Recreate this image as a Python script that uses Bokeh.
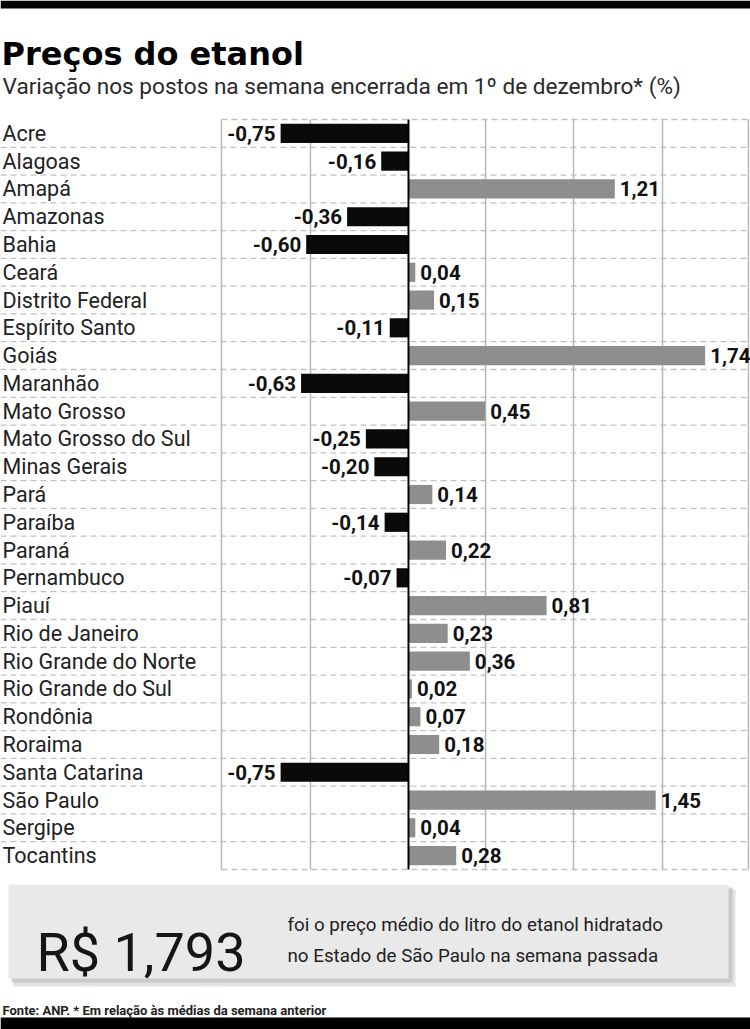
from bokeh.plotting import figure
from bokeh.models import Range1d, Label, BoxAnnotation, ColumnDataSource
from bokeh.core.properties import value
from bokeh.embed import file_html
from bokeh.resources import INLINE

# ---------------- data ----------------
states = [
    "Acre", "Alagoas", "Amapá", "Amazonas", "Bahia", "Ceará",
    "Distrito Federal", "Espírito Santo", "Goiás", "Maranhão",
    "Mato Grosso", "Mato Grosso do Sul", "Minas Gerais", "Pará",
    "Paraíba", "Paraná", "Pernambuco", "Piauí", "Rio de Janeiro",
    "Rio Grande do Norte", "Rio Grande do Sul", "Rondônia", "Roraima",
    "Santa Catarina", "São  Paulo", "Sergipe", "Tocantins",
]
changes = [
    -0.75, -0.16, 1.21, -0.36, -0.60, 0.04,
    0.15, -0.11, 1.74, -0.63,
    0.45, -0.25, -0.20, 0.14,
    -0.14, 0.22, -0.07, 0.81, 0.23,
    0.36, 0.02, 0.07, 0.18,
    -0.75, 1.45, 0.04, 0.28,
]
grid_ticks = [-1.097, -0.575, 0.452, 0.968, 1.490, 1.994]

title_text = "Preços do etanol"
subtitle_text = "Variação nos postos na semana encerrada em 1º de dezembro* (%)"
price_text = "R$ 1,793"
box_line1 = "foi o preço médio do litro do etanol hidratado"
box_line2 = "no Estado de São Paulo na semana passada"
footer_text = "Fonte: ANP. * Em relação às médias da semana anterior"

# ---------------- derived ----------------
W, H = 750, 1029
n = len(states)
ys = [-i for i in range(n)]
fmt = [f"{v:.2f}".replace(".", ",") for v in changes]
colors = ["#0a0a0a" if v < 0 else "#8e8e8e" for v in changes]

XMIN, XMAX = -2.393, 2.006
YMIN, YMAX = -32.26, 4.784
LEFT_EDGE, RIGHT_EDGE = grid_ticks[0], grid_ticks[-1]
TOP, BOT = 0.5, -(n - 1) - 0.5

p = figure(
    width=W, height=H,
    x_range=Range1d(XMIN, XMAX), y_range=Range1d(YMIN, YMAX),
    output_backend="svg", toolbar_location=None,
    x_axis_location=None, y_axis_location=None,
    min_border=0, outline_line_color=None,
    background_fill_color="white", border_fill_color="white",
)
p.xgrid.visible = False
p.ygrid.visible = False

# interior row separators (full width)
sep_y = [-i - 0.5 for i in range(n - 1)]
p.segment(x0=XMIN, x1=XMAX, y0=sep_y, y1=sep_y,
          line_color="#c2c2c2", line_width=1.3, line_dash="6 4")
# top / bottom borders (chart area only)
p.segment(x0=LEFT_EDGE, x1=RIGHT_EDGE, y0=[TOP, BOT], y1=[TOP, BOT],
          line_color="#c2c2c2", line_width=1.3, line_dash="6 4")
# vertical grid lines
p.segment(x0=grid_ticks, x1=grid_ticks, y0=TOP, y1=BOT,
          line_color="#b8b8b8", line_width=1.5)

# bars
p.hbar(y=ys, left=0, right=changes, height=0.69,
       fill_color=colors, line_color=None)

# zero line
p.segment(x0=[0], x1=[0], y0=TOP, y1=BOT, line_color="#000000", line_width=2)

# state labels
p.text(x=XMIN, y=ys, text=states, x_offset=2,
       text_font=value("Roboto"), text_font_size="21.5px",
       text_align="left", text_baseline="middle", text_color="#222222")

# value labels
neg = ColumnDataSource(dict(
    x=[v for v in changes if v < 0],
    y=[y for y, v in zip(ys, changes) if v < 0],
    t=[t for t, v in zip(fmt, changes) if v < 0]))
pos = ColumnDataSource(dict(
    x=[v for v in changes if v >= 0],
    y=[y for y, v in zip(ys, changes) if v >= 0],
    t=[t for t, v in zip(fmt, changes) if v >= 0]))
p.text(x="x", y="y", text="t", source=neg, x_offset=-5,
       text_font=value("Roboto"), text_font_style="bold", text_font_size="20.5px",
       text_align="right", text_baseline="middle", text_color="#111111")
p.text(x="x", y="y", text="t", source=pos, x_offset=5,
       text_font=value("Roboto"), text_font_style="bold", text_font_size="20.5px",
       text_align="left", text_baseline="middle", text_color="#111111")


def sy(canvas_y):
    return H - canvas_y


def box(l, t, r, b, color, alpha=1.0):
    p.add_layout(BoxAnnotation(
        left=l, right=r, top=sy(t), bottom=sy(b),
        left_units="screen", right_units="screen",
        top_units="screen", bottom_units="screen",
        fill_color=color, fill_alpha=alpha, line_alpha=0))


# black bars
box(0, 0, W, 8, "#000000")
box(0, 1017, W, H, "#000000")

# info box with shadow
box(13, 889, 735, 986, "#d0d0d0", 0.6)
box(11, 887, 732, 982, "#b8b8b8", 0.6)
box(8, 884, 728, 978, "#e9e9e9")


def label(x, y, text, size, font="Roboto", style="normal", color="#1a1a1a"):
    p.add_layout(Label(x=x, y=sy(y), x_units="screen", y_units="screen",
                       text=text, text_font=font, text_font_style=style,
                       text_font_size=size, text_color=color,
                       text_baseline="alphabetic", text_align="left"))


label(1, 53, title_text, "32px", font="DejaVu Sans", style="bold", color="#000000")
label(2, 86, subtitle_text, "22.6px", color="#2a2a2a")
label(36, 952, price_text, "54px", color="#151515")
label(287, 924, box_line1, "18.8px", color="#222222")
label(287, 955, box_line2, "18.8px", color="#222222")
label(2, 1010, footer_text, "13px", style="bold", color="#222222")

open("out.html", "w").write(file_html(p, INLINE))
